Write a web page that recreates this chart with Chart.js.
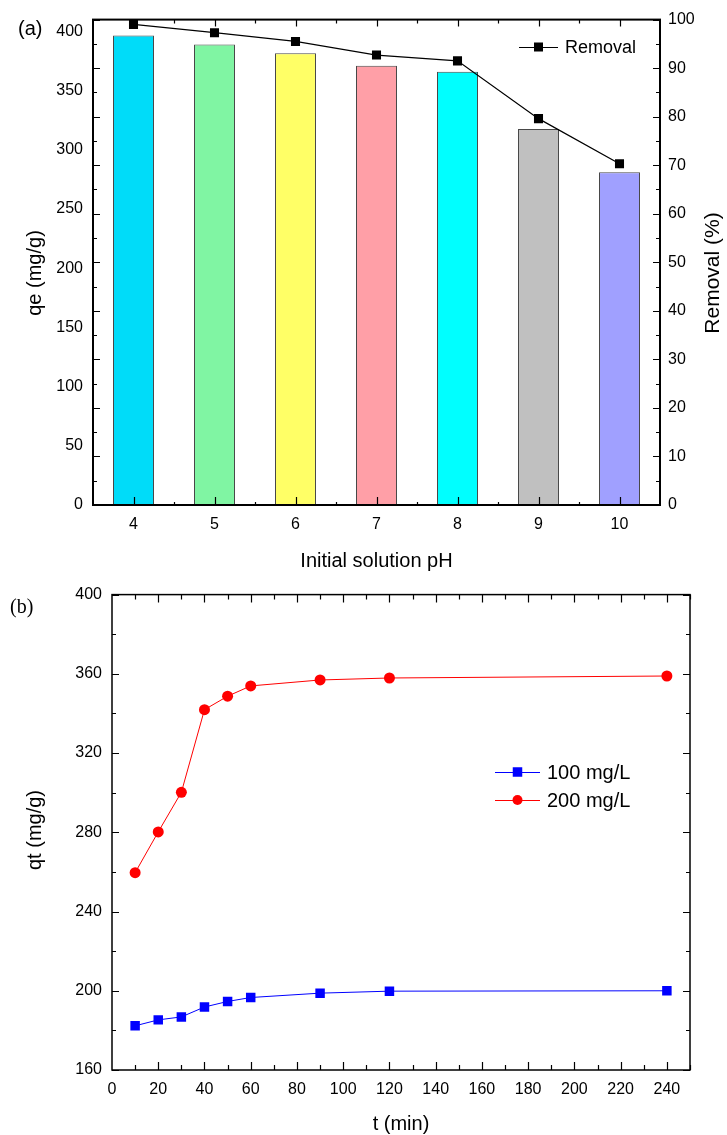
<!DOCTYPE html>
<html>
<head>
<meta charset="utf-8">
<script src="https://cdn.jsdelivr.net/npm/chart.js@4/dist/chart.umd.min.js"></script>
<style>
  html, body { margin: 0; padding: 0; background: #ffffff; }
  #panelA { position: absolute; left: 0; top: 0; }
  #panelB { position: absolute; left: 0; top: 575px; }
</style>
</head>
<body>
<canvas id="panelA" width="727" height="575"></canvas>
<canvas id="panelB" width="727" height="560"></canvas>
<script>
// ---- (a) effect of initial pH ----
const phLabels = ['4', '5', '6', '7', '8', '9', '10'];
const qeValues = [396.5, 389.0, 381.6, 371.0, 366.0, 317.6, 281.0];
const removalValues = [99.0, 97.3, 95.5, 92.7, 91.5, 79.6, 70.3];
const barColors = ['#00DCF9', '#80F5A3', '#FFFF66', '#FF9FA7', '#00FFFF', '#C0C0C0', '#A0A0FF'];

// ---- (b) contact time ----
const timeMin = [10, 20, 30, 40, 50, 60, 90, 120, 240];
const qt100 = [182.3, 185.3, 186.8, 191.8, 194.6, 196.6, 198.8, 199.8, 200.0];
const qt200 = [259.6, 280.2, 300.2, 341.9, 348.7, 353.9, 356.9, 357.9, 358.9];
const seriesNames = ['100 mg/L', '200 mg/L'];

const SANS = "'Liberation Sans', Arial, sans-serif";
const SERIF = "'Liberation Serif', 'Times New Roman', serif";
Chart.defaults.font.family = SANS;
Chart.defaults.color = '#000';

// Inward tick marks, box frame, titles and legend drawn on top of the plot.
const decorPlugin = {
  id: 'decor',
  afterDraw(chart, args, opts) {
    const ctx = chart.ctx;
    const a = chart.chartArea;
    ctx.save();
    // tick marks
    ctx.strokeStyle = '#000';
    ctx.lineWidth = opts.tickWidth || 1;
    ctx.beginPath();
    for (const t of opts.ticks(chart)) {
      const p = Math.round(t.pos) + 0.5;
      if (t.side === 'left') { ctx.moveTo(a.left, p); ctx.lineTo(a.left + t.len, p); }
      if (t.side === 'right') { ctx.moveTo(a.right, p); ctx.lineTo(a.right - t.len, p); }
      if (t.side === 'bottom') { ctx.moveTo(p, a.bottom); ctx.lineTo(p, a.bottom - t.len); }
      if (t.side === 'top') { ctx.moveTo(p, a.top); ctx.lineTo(p, a.top + t.len); }
    }
    ctx.stroke();
    // frame
    ctx.lineWidth = opts.frameWidth;
    ctx.strokeRect(a.left, a.top, a.right - a.left, a.bottom - a.top);
    // texts
    ctx.fillStyle = '#000';
    for (const t of opts.texts) {
      ctx.save();
      ctx.translate(t.x, t.y);
      if (t.rot) ctx.rotate(t.rot);
      ctx.font = t.font;
      ctx.textAlign = t.align || 'center';
      ctx.textBaseline = t.base || 'middle';
      ctx.fillText(t.text, 0, 0);
      ctx.restore();
    }
    // legend entries
    for (const e of opts.legend) {
      ctx.strokeStyle = e.color;
      ctx.lineWidth = 1;
      ctx.beginPath();
      ctx.moveTo(e.x0, e.y + 0.5);
      ctx.lineTo(e.x1, e.y + 0.5);
      ctx.stroke();
      ctx.fillStyle = e.color;
      const mx = (e.x0 + e.x1) / 2;
      if (e.marker === 'rect') {
        ctx.fillRect(mx - e.size / 2, e.y - e.size / 2, e.size, e.size);
      } else {
        ctx.beginPath();
        ctx.arc(mx, e.y, e.size / 2, 0, Math.PI * 2);
        ctx.fill();
      }
      ctx.fillStyle = '#000';
      ctx.font = e.font;
      ctx.textAlign = 'left';
      ctx.textBaseline = 'middle';
      ctx.fillText(e.text, e.x1 + 7, e.y + 1);
    }
    ctx.restore();
  }
};

function fixedWidth(w) { return scale => { scale.width = w; }; }
function fixedHeight(h) { return scale => { scale.height = h; }; }

// ---------- panel (a) ----------
new Chart(document.getElementById('panelA'), {
  type: 'bar',
  data: {
    labels: phLabels,
    datasets: [
      {
        type: 'line',
        label: 'Removal',
        data: removalValues,
        yAxisID: 'y1',
        borderColor: '#000',
        borderWidth: 1.2,
        backgroundColor: '#000',
        pointStyle: 'rect',
        pointRadius: 6.4,
        pointBorderWidth: 0,
        pointBackgroundColor: '#000',
        tension: 0,
        order: 0
      },
      {
        type: 'bar',
        label: 'qe',
        data: qeValues,
        yAxisID: 'y',
        backgroundColor: barColors,
        borderColor: 'rgba(40,40,40,0.85)',
        borderWidth: 1,
        barPercentage: 0.506,
        categoryPercentage: 1,
        order: 1
      }
    ]
  },
  options: {
    responsive: false,
    animation: false,
    events: [],
    layout: { padding: { top: 18, left: 0, right: 0, bottom: 0 } },
    plugins: {
      legend: { display: false },
      tooltip: { enabled: false },
      decor: {
        frameWidth: 2,
        tickWidth: 1.2,
        ticks(chart) {
          const out = [];
          const y1 = chart.scales.y1;
          const x = chart.scales.x;
          const a = chart.chartArea;
          for (let v = 0; v <= 100; v += 5) {
            const len = v % 10 === 0 ? 7 : 4;
            out.push({ side: 'left', pos: y1.getPixelForValue(v), len });
            out.push({ side: 'right', pos: y1.getPixelForValue(v), len });
          }
          const step = (a.right - a.left) / phLabels.length;
          phLabels.forEach((_, i) => {
            out.push({ side: 'bottom', pos: x.getPixelForValue(i), len: 8 });
            out.push({ side: 'top', pos: x.getPixelForValue(i), len: 7 });
          });
          for (let k = 1; k < phLabels.length; k++) {
            out.push({ side: 'bottom', pos: a.left + k * step, len: 3 });
            out.push({ side: 'top', pos: a.left + k * step, len: 4 });
          }
          return out;
        },
        texts: [
          { text: '(a)', x: 18, y: 35, font: '20px ' + SANS, align: 'left', base: 'alphabetic' },
          { text: 'qe (mg/g)', x: 35, y: 273, rot: -Math.PI / 2, font: '20px ' + SANS },
          { text: 'Removal (%)', x: 713, y: 273, rot: -Math.PI / 2, font: '21px ' + SANS },
          { text: 'Initial solution pH', x: 376.5, y: 566.5, font: '20px ' + SANS, base: 'alphabetic' }
        ],
        legend: [
          { text: 'Removal', x0: 519, x1: 558, y: 47, color: '#000', marker: 'rect', size: 9, font: '18px ' + SANS }
        ]
      }
    },
    scales: {
      x: {
        type: 'category',
        offset: true,
        grid: { display: false, drawTicks: false },
        border: { display: false },
        ticks: { padding: 9.5, font: { size: 16 } },
        afterFit: fixedHeight(70)
      },
      y: {
        position: 'left',
        min: 0,
        max: 410,
        grid: { display: false, drawTicks: false },
        border: { display: false },
        ticks: { stepSize: 50, includeBounds: false, padding: 10, font: { size: 16 } },
        afterFit: fixedWidth(93)
      },
      y1: {
        position: 'right',
        min: 0,
        max: 100,
        grid: { display: false, drawTicks: false },
        border: { display: false },
        ticks: { stepSize: 10, padding: 8, font: { size: 16 } },
        afterFit: fixedWidth(67)
      }
    }
  },
  plugins: [decorPlugin]
});

// ---------- panel (b) ----------
new Chart(document.getElementById('panelB'), {
  type: 'line',
  data: {
    datasets: [
      {
        label: seriesNames[0],
        data: timeMin.map((t, i) => ({ x: t, y: qt100[i] })),
        borderColor: '#0000FF',
        borderWidth: 1,
        pointStyle: 'rect',
        pointRadius: 6.7,
        pointBorderWidth: 0,
        pointBackgroundColor: '#0000FF',
        tension: 0
      },
      {
        label: seriesNames[1],
        data: timeMin.map((t, i) => ({ x: t, y: qt200[i] })),
        borderColor: '#FF0000',
        borderWidth: 1,
        pointStyle: 'circle',
        pointRadius: 5.5,
        pointBorderWidth: 0,
        pointBackgroundColor: '#FF0000',
        tension: 0
      }
    ]
  },
  options: {
    responsive: false,
    animation: false,
    events: [],
    layout: { padding: { top: 16, left: 0, right: 37, bottom: 0 } },
    plugins: {
      legend: { display: false },
      tooltip: { enabled: false },
      decor: {
        frameWidth: 1.5,
        tickWidth: 1.2,
        ticks(chart) {
          const out = [];
          const xs = chart.scales.x;
          const ys = chart.scales.y;
          for (let v = 160; v <= 400; v += 20) {
            const len = v % 40 === 0 ? 7 : 4;
            out.push({ side: 'left', pos: ys.getPixelForValue(v), len });
            out.push({ side: 'right', pos: ys.getPixelForValue(v), len });
          }
          for (let v = 10; v <= 250; v += 10) {
            const len = v % 20 === 0 ? 8 : 5;
            out.push({ side: 'bottom', pos: xs.getPixelForValue(v), len });
            out.push({ side: 'top', pos: xs.getPixelForValue(v), len });
          }
          return out;
        },
        texts: [
          { text: '(b)', x: 10, y: 37.5, font: '20px ' + SERIF, align: 'left', base: 'alphabetic' },
          { text: 'qt (mg/g)', x: 35, y: 255, rot: -Math.PI / 2, font: '20px ' + SANS },
          { text: 't (min)', x: 401, y: 555, font: '20px ' + SANS, base: 'alphabetic' }
        ],
        legend: [
          { text: seriesNames[0], x0: 495, x1: 540, y: 197, color: '#0000FF', marker: 'rect', size: 9.5, font: '20px ' + SANS },
          { text: seriesNames[1], x0: 495, x1: 540, y: 225, color: '#FF0000', marker: 'circle', size: 10, font: '20px ' + SANS }
        ]
      }
    },
    scales: {
      x: {
        type: 'linear',
        min: 0,
        max: 250,
        grid: { display: false, drawTicks: false },
        border: { display: false },
        ticks: { stepSize: 20, includeBounds: false, padding: 9.5, font: { size: 16 } },
        afterFit: fixedHeight(65)
      },
      y: {
        type: 'linear',
        min: 160,
        max: 400,
        grid: { display: false, drawTicks: false },
        border: { display: false },
        ticks: { stepSize: 40, padding: 10, font: { size: 16 } },
        afterFit: fixedWidth(112)
      }
    }
  },
  plugins: [decorPlugin]
});
</script>
</body>
</html>
